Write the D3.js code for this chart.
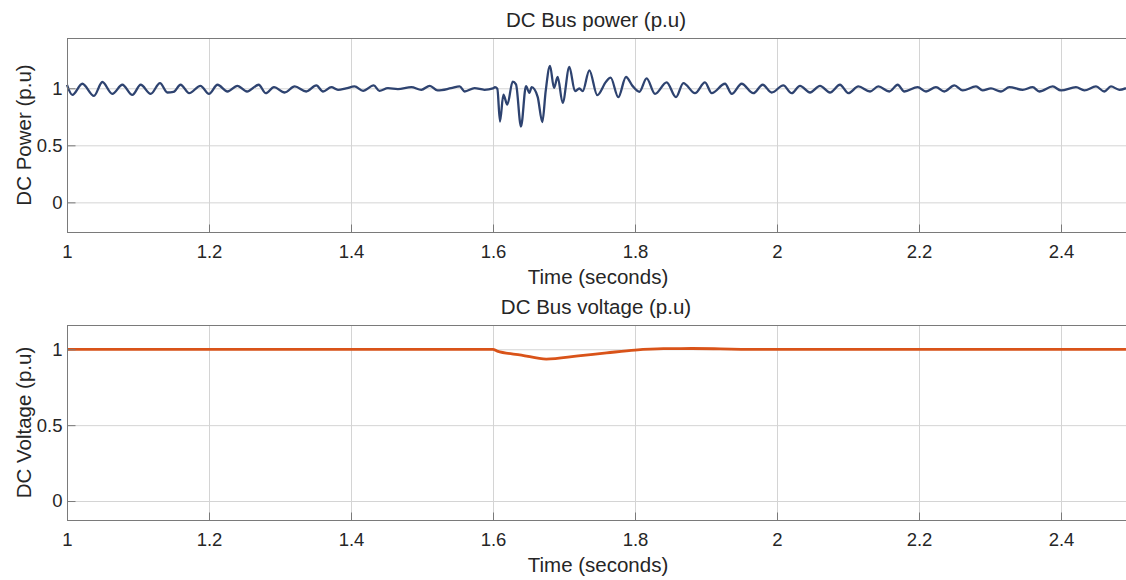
<!DOCTYPE html>
<meta charset="utf-8">
<style>
    body { margin: 0; background: #fff; }
    svg { font-family: "Liberation Sans", Arial, sans-serif; }
    .grid line { stroke: #d4d4d4; stroke-width: 1; }
    .tick text { fill: #262626; font-size: 18.5px; }
    .frame { fill: none; stroke: #7a7a7a; stroke-width: 1; }
    .lbl { fill: #262626; font-size: 20.5px; }
</style>

<svg width="1126" height="580"></svg>
<script src="https://d3js.org/d3.v7.min.js"></script>
<script>

    var xTicks = [1, 1.2, 1.4, 1.6, 1.8, 2, 2.2, 2.4];
    var yTicks = [0, 0.5, 1];

    // DC power (p.u), read at the peaks and troughs
    var powerTime = [1.000, 1.0075, 1.0216, 1.038, 1.0498, 1.0638, 1.078, 1.092, 1.1038, 1.1178,
        1.131, 1.1413, 1.150, 1.160, 1.172, 1.188, 1.200, 1.212, 1.226, 1.240,
        1.2535, 1.270, 1.280, 1.2915, 1.3066, 1.3207, 1.337, 1.3512, 1.3606, 1.3723,
        1.3817, 1.393, 1.405, 1.417, 1.432, 1.440, 1.452, 1.466, 1.485, 1.499,
        1.511, 1.522, 1.541, 1.553, 1.560, 1.574, 1.588, 1.600, 1.6028, 1.6061,
        1.6099, 1.6146, 1.6202, 1.6277, 1.6324, 1.6394, 1.6465, 1.6512, 1.6545, 1.6629,
        1.6695, 1.6742, 1.6803, 1.6859, 1.6911, 1.6981, 1.7075, 1.7155, 1.7216, 1.7263,
        1.7357, 1.7469, 1.7592, 1.7657, 1.7765, 1.7873, 1.7967, 1.8061, 1.8164, 1.8282,
        1.8446, 1.8577, 1.8681, 1.8845, 1.8986, 1.9080, 1.9268, 1.9362, 1.9502, 1.9667,
        1.9798, 1.9925, 2.0089, 2.0207, 2.0324, 2.0465, 2.0606, 2.0746, 2.0887, 2.1005,
        2.1146, 2.1310, 2.1427, 2.1582, 2.1700, 2.1793, 2.1981, 2.2099, 2.2239, 2.2357,
        2.2498, 2.2615, 2.2803, 2.2897, 2.3014, 2.3155, 2.3272, 2.3460, 2.3601, 2.3695,
        2.3883, 2.4000, 2.4211, 2.4329, 2.4493, 2.4610, 2.4704, 2.4822, 2.4915];
    var powerValue = [1.030, 0.942, 1.040, 0.934, 1.055, 0.951, 1.031, 0.942, 1.031, 0.951,
        1.046, 0.963, 0.968, 1.031, 0.957, 1.022, 0.951, 1.031, 0.972, 1.022,
        0.972, 1.031, 0.957, 1.010, 0.963, 1.016, 0.972, 1.025, 0.972, 1.010,
        0.987, 0.999, 1.016, 0.978, 1.025, 0.978, 1.001, 0.993, 1.010, 0.987,
        1.022, 0.981, 1.001, 1.016, 0.972, 1.001, 0.987, 0.999, 1.010, 0.996,
        0.709, 0.945, 0.857, 1.058, 1.034, 0.665, 1.019, 0.960, 1.010, 0.925,
        0.704, 0.975, 1.196, 1.004, 1.099, 0.872, 1.187, 0.975, 0.998, 0.975,
        1.158, 0.940, 1.058, 1.093, 0.922, 1.099, 1.019, 0.969, 1.087, 0.951,
        1.052, 0.922, 1.046, 0.957, 1.052, 0.957, 1.040, 0.951, 1.040, 0.957,
        1.031, 0.963, 1.025, 0.957, 1.022, 0.963, 1.022, 0.963, 1.031, 0.957,
        1.016, 0.972, 1.016, 0.972, 1.031, 0.972, 1.010, 0.972, 1.010, 0.972,
        1.025, 0.981, 1.016, 0.981, 0.999, 0.972, 1.010, 0.987, 1.010, 0.972,
        1.016, 0.981, 1.010, 0.981, 1.016, 0.972, 1.016, 0.987, 1.001];

    // DC voltage (p.u)
    var voltageTime = [1.000, 1.300, 1.600, 1.606, 1.640, 1.675, 1.720, 1.760, 1.800, 1.840, 1.880, 1.920, 1.960, 2.200, 2.4915];
    var voltageValue = [1.000, 1.000, 1.000, 0.988, 0.962, 0.935, 0.956, 0.976, 0.995, 1.004, 1.005, 1.003, 1.000, 1.000, 1.000];

    var svg = d3.select("svg");
    var left = 67, right = 1132;

    var xScale = d3.scaleLinear().domain([1, 2.5]).range([left, right]);

    function panel(cfg) {
        var yScale = d3.scaleLinear().domain(cfg.yDomain).range([cfg.bottom, cfg.top]);
        var g = svg.append("g");

        g.append("g")
            .attr("class", "grid")
            .attr("transform", "translate(0," + cfg.bottom + ")")
            .call(d3.axisBottom(xScale).tickValues(xTicks).tickSize(-(cfg.bottom - cfg.top)).tickFormat(""))
            .call(function (a) { a.select(".domain").remove(); });

        g.append("g")
            .attr("class", "grid")
            .attr("transform", "translate(" + left + ",0)")
            .call(d3.axisLeft(yScale).tickValues(yTicks).tickSize(-(right - left)).tickFormat(""))
            .call(function (a) { a.select(".domain").remove(); });

        var line = d3.line()
            .curve(d3.curveMonotoneX)
            .x(function (d) { return xScale(d[0]); })
            .y(function (d) { return yScale(d[1]); });

        g.append("path")
            .datum(d3.zip(cfg.xs, cfg.ys))
            .attr("fill", "none")
            .attr("stroke", cfg.color)
            .attr("stroke-width", cfg.width)
            .attr("stroke-linejoin", "round")
            .attr("d", line);

        g.append("rect")
            .attr("class", "frame")
            .attr("x", left + 0.5)
            .attr("y", cfg.top + 0.5)
            .attr("width", right - left)
            .attr("height", cfg.bottom - cfg.top);

        // inward ticks and labels
        var xa = g.append("g")
            .attr("transform", "translate(0," + (cfg.bottom + 0.5) + ")")
            .call(d3.axisBottom(xScale).tickValues(xTicks).tickSize(-8).tickPadding(12).tickFormat(d3.format("")));
        xa.select(".domain").remove();
        xa.selectAll("line").attr("stroke", "#7a7a7a");

        var ya = g.append("g")
            .attr("transform", "translate(" + (left + 0.5) + ",0)")
            .call(d3.axisLeft(yScale).tickValues(yTicks).tickSize(-8).tickPadding(5).tickFormat(d3.format("")));
        ya.select(".domain").remove();
        ya.selectAll("line").attr("stroke", "#7a7a7a");

        g.append("text")
            .attr("class", "lbl")
            .attr("x", 596).attr("y", cfg.top - 11)
            .attr("text-anchor", "middle")
            .text(cfg.title);

        g.append("text")
            .attr("class", "lbl")
            .attr("x", 598).attr("y", cfg.bottom + 52)
            .attr("text-anchor", "middle")
            .text("Time (seconds)");

        g.append("text")
            .attr("class", "lbl")
            .attr("transform", "translate(31," + (cfg.top + cfg.bottom) / 2 + ") rotate(-90)")
            .attr("text-anchor", "middle")
            .text(cfg.ylabel);
    }

    panel({
        top: 38, bottom: 232, yDomain: [-0.26, 1.441],
        xs: powerTime, ys: powerValue, color: "#2e4370", width: 2.3,
        title: "DC Bus power (p.u)", ylabel: "DC Power (p.u)"
    });

    panel({
        top: 325, bottom: 520, yDomain: [-0.125, 1.16],
        xs: voltageTime, ys: voltageValue, color: "#d95319", width: 2.8,
        title: "DC Bus voltage (p.u)", ylabel: "DC Voltage (p.u)"
    });

</script>
